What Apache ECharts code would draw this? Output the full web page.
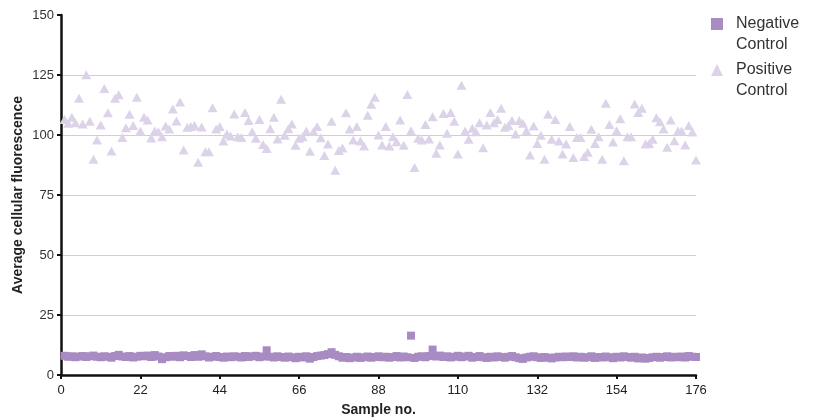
<!DOCTYPE html>
<html>
<head>
<meta charset="utf-8">
<script src="https://cdn.jsdelivr.net/npm/echarts@6/dist/echarts.min.js"></script>
<style>
  html, body { margin: 0; padding: 0; background: #fff; }
  #chart { width: 816px; height: 417px; }
</style>
</head>
<body>
<div id="chart"></div>
<script>
// x axis ticks (sample no.)
const xTicks = [0, 22, 44, 66, 88, 110, 132, 154, 176]

// negative control, samples 1..176
const negative = [
  8.0, 7.6, 7.8, 7.4, 7.7, 7.9, 7.5, 7.8, 8.1, 7.6,
  7.4, 7.8, 7.6, 7.2, 7.9, 8.4, 7.7, 7.5, 7.9, 7.3,
  7.6, 8.0, 7.8, 8.1, 7.5, 8.3, 7.7, 6.6, 7.4, 7.9,
  7.6, 8.0, 7.4, 8.2, 7.9, 7.5, 8.3, 7.6, 8.6, 7.8,
  7.3, 7.6, 7.9, 7.5, 7.2, 7.7, 7.4, 7.8, 7.6, 7.3,
  7.9, 7.5, 7.8, 8.0, 7.4, 7.7, 10.3, 7.6, 7.3, 7.8,
  7.5, 7.2, 7.7, 7.4, 7.0, 7.6, 7.3, 7.8, 6.8, 7.5,
  7.9, 8.1, 8.3, 8.7, 9.5, 8.4, 7.8, 7.2, 7.5, 7.0,
  7.3, 7.6, 7.1, 7.4, 7.7, 7.2, 7.5, 7.8, 7.4, 7.6,
  7.2, 7.5, 7.9, 7.3, 7.7, 7.4, 16.4, 7.1, 7.6, 7.8,
  7.4, 7.9, 10.6, 7.7, 8.1, 7.5, 7.8, 7.3, 7.6, 8.0,
  7.4, 7.7, 8.0, 7.2, 7.5, 7.9, 7.4, 7.1, 7.6, 7.3,
  7.8, 7.5, 7.2, 7.6, 7.9, 7.4, 7.0, 6.7, 7.3, 7.6,
  7.8, 7.4, 7.1, 7.5, 7.2, 6.9, 7.3, 7.6, 7.4, 7.7,
  7.5, 7.8, 7.3, 7.6, 7.2, 7.4, 7.8, 7.1, 7.5, 7.3,
  7.7, 7.4, 7.0, 7.6, 7.3, 7.8, 7.5, 7.2, 7.6, 6.9,
  7.3, 6.8, 7.1, 7.4, 7.6, 7.2, 7.5, 7.8, 7.3, 7.6,
  7.4, 7.7, 7.3, 7.9, 7.6, 7.5
]

// positive control, samples 1..176
const positive = [
  106.5, 104.9, 107.4, 105.1, 115.3, 104.6, 125.1, 105.7, 89.9, 97.9,
  104.2, 119.4, 109.3, 93.3, 115.3, 116.8, 99.0, 103.0, 108.6, 104.0,
  115.7, 101.7, 107.4, 106.3, 98.8, 101.7, 101.4, 99.3, 103.8, 102.5,
  110.8, 105.8, 113.8, 93.8, 103.2, 103.5, 104.0, 88.6, 103.3, 93.0,
  93.0, 111.4, 102.5, 103.5, 97.5, 100.4, 99.6, 108.8, 99.3, 99.0,
  109.4, 106.0, 101.4, 98.6, 106.5, 96.0, 94.4, 102.6, 107.4, 98.3,
  114.9, 99.9, 102.6, 104.6, 95.7, 98.6, 99.3, 101.7, 93.2, 101.5,
  103.5, 98.9, 91.5, 96.3, 105.7, 85.3, 93.5, 94.6, 109.3, 102.5,
  97.9, 103.5, 97.5, 95.4, 108.2, 112.8, 115.7, 100.0, 95.8, 103.5,
  95.4, 99.3, 97.2, 106.3, 95.7, 116.9, 101.8, 86.5, 98.6, 97.9,
  104.4, 98.3, 107.6, 92.4, 95.8, 109.0, 100.7, 109.4, 105.7, 92.1,
  120.7, 101.7, 98.2, 102.8, 101.4, 105.1, 94.7, 104.2, 109.4, 105.1,
  106.5, 111.1, 103.2, 104.0, 106.0, 100.4, 106.0, 104.9, 101.8, 91.7,
  103.8, 96.5, 99.9, 89.9, 108.6, 98.2, 106.5, 97.5, 92.1, 96.3,
  103.5, 90.6, 99.0, 99.0, 91.0, 92.8, 102.4, 96.5, 99.3, 89.9,
  113.2, 104.4, 97.1, 101.8, 106.8, 89.3, 99.3, 99.3, 112.9, 109.4,
  111.1, 96.3, 96.5, 98.2, 107.2, 105.5, 102.5, 94.9, 106.3, 97.6,
  101.7, 101.7, 95.8, 104.0, 101.3, 89.6
]

const negColor = '#a88bc2'
const posColor = '#ddd3e9'
const textColor = '#333'
const font = '"Liberation Sans", Arial, sans-serif'

// pair each value with its sample number (1-based)
const toPoints = (arr) => arr.map((v, i) => [i + 1, v])

const chart = echarts.init(document.getElementById('chart'), null, { renderer: 'canvas' })

const option = {
  animation: false,
  textStyle: { fontFamily: font },
  grid: { left: 61, right: 120, top: 15, bottom: 42, containLabel: false, outerBoundsMode: 'none' },
  // legend shows the first word next to the icon, the second line is a plain text below
  legend: {
    orient: 'vertical',
    left: 711,
    top: 13,
    padding: 0,
    itemWidth: 12,
    itemHeight: 12,
    itemGap: 24,
    textStyle: { fontSize: 16, color: textColor, lineHeight: 22, fontFamily: font, padding: [0, 0, 0, 8] },
    formatter: (name) => name.split(' ')[0],
    data: [
      { name: 'Negative Control', icon: 'rect' },
      { name: 'Positive Control', icon: 'triangle' }
    ]
  },
  graphic: [
    { type: 'text', left: 736, top: 37, style: { text: 'Control', fontSize: 16, fill: textColor, fontFamily: font } },
    { type: 'text', left: 736, top: 83, style: { text: 'Control', fontSize: 16, fill: textColor, fontFamily: font } }
  ],
  xAxis: {
    type: 'value',
    min: 0,
    max: 176,
    interval: 22,
    name: 'Sample no.',
    nameLocation: 'middle',
    nameGap: 28,
    nameMoveOverlap: false,
    nameTextStyle: { fontWeight: 'bold', fontSize: 14, color: '#222' },
    axisLine: { lineStyle: { color: '#111', width: 2.5 } },
    axisTick: { show: true, length: 4, lineStyle: { color: '#111', width: 2 } },
    axisLabel: {
      fontSize: 13, color: '#222', margin: 9,
      formatter: (v) => (xTicks.includes(v) ? String(v) : '')
    },
    splitLine: { show: false }
  },
  yAxis: {
    type: 'value',
    min: 0,
    max: 150,
    interval: 25,
    name: 'Average cellular fluorescence',
    nameLocation: 'middle',
    nameGap: 36,
    nameMoveOverlap: false,
    nameTextStyle: { fontWeight: 'bold', fontSize: 14, color: '#222' },
    axisLine: { show: true, lineStyle: { color: '#111', width: 2.5 } },
    axisTick: { show: true, length: 4, lineStyle: { color: '#111', width: 2 } },
    axisLabel: { fontSize: 13, color: '#333', margin: 7 },
    splitLine: { show: true, showMaxLine: false, lineStyle: { color: '#cfcfcf', width: 1 } }
  },
  series: [
    {
      name: 'Negative Control',
      type: 'scatter',
      symbol: 'rect',
      symbolSize: 8,
      itemStyle: { color: negColor, opacity: 1 },
      data: toPoints(negative),
      z: 3
    },
    {
      name: 'Positive Control',
      type: 'scatter',
      symbol: 'triangle',
      symbolSize: [10, 9],
      itemStyle: { color: posColor, opacity: 1 },
      data: toPoints(positive),
      z: 2
    }
  ]
}

chart.setOption(option)
</script>
</body>
</html>
